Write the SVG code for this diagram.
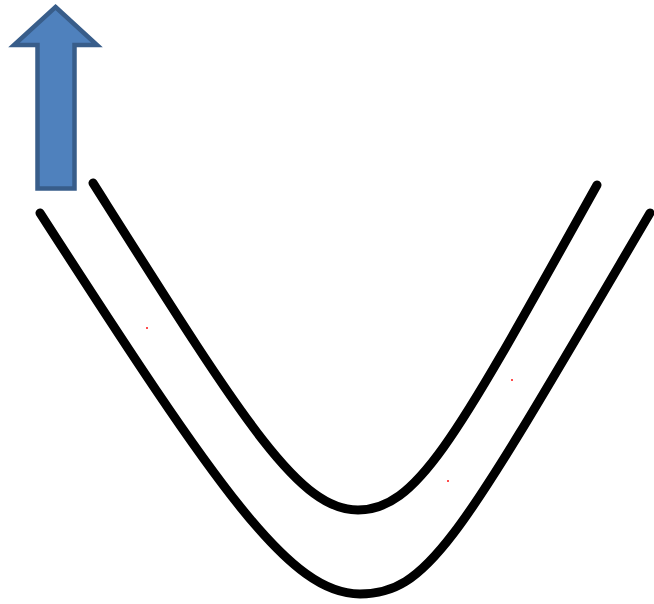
<svg xmlns="http://www.w3.org/2000/svg" width="654" height="604" viewBox="0 0 654 604">
<style>
.curve{fill:none;stroke:#000;stroke-width:9;stroke-linecap:round;stroke-linejoin:round}
.arrow{fill:#4F81BD;stroke:#385D8A;stroke-width:4.5}
.dot{fill:#ff4d4d}
</style>
<rect width="654" height="604" fill="#fff"/>
<g id="arrow">
<path class="arrow" d="M55.5,7 L97,45 L74.5,45 L74.5,188.5 L37.5,188.5 L37.5,45 L14,45 Z"/>
</g>
<g id="connectors">
<path id="inner" class="curve" d="M93,183 C243,420 298,510 358,510 C418,510 457,436 597,185"/>
<path id="outer" class="curve" d="M40,213 C220,492 290,594 360,594 C430,594 460,536 650,213"/>
</g>
<g id="dots">
<rect class="dot" x="146" y="327" width="2" height="2"/>
<rect class="dot" x="511" y="379" width="2" height="2"/>
<rect class="dot" x="447" y="480" width="2" height="2"/>
</g>
</svg>
